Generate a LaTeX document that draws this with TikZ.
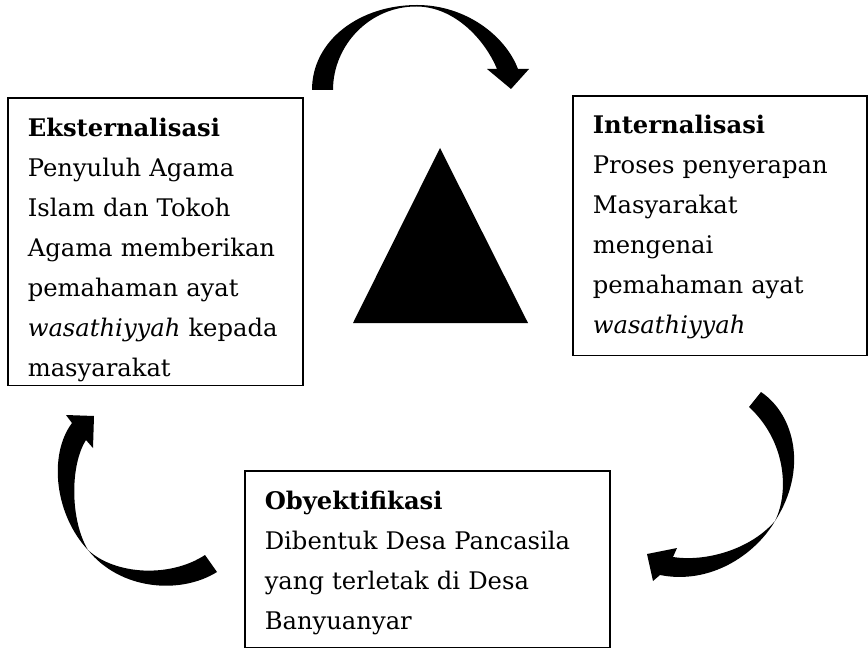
\documentclass[tikz,border=0pt]{standalone}
\usepackage{fontspec}
\setmainfont{DejaVu Serif}
\usepackage{tikz}
\tikzstyle{box}=[draw, line width=0.9pt, anchor=north west, align=left,
  inner xsep=0.4cm, inner ysep=0pt, font=\fontsize{13.8pt}{22.76pt}\selectfont]
\tikzstyle{ribbon}=[fill=black, draw=none]

\begin{document}
\begin{tikzpicture}[x=0.02cm, y=-0.02cm]
\useasboundingbox (0,0) rectangle (868,648);
% Boxes
    \node[box, text width=5.1cm] (ekst) at (7,97)
      {\rule{0pt}{22.2pt}\textbf{Eksternalisasi}\\
       Penyuluh Agama\\
       Islam dan Tokoh\\
       Agama memberikan\\
       pemahaman ayat\\
       \textit{wasathiyyah} kepada\\
       masyarakat\rule[-5.1pt]{0pt}{5.1pt}};
    \node[box, text width=5.08cm] (inter) at (572,95)
      {\rule{0pt}{21.6pt}\textbf{Internalisasi}\\
       Proses penyerapan\\
       Masyarakat\\
       mengenai\\
       pemahaman ayat\\
       \textit{wasathiyyah}\rule[-12.5pt]{0pt}{12.5pt}};
    \node[box, text width=6.5cm] (obyek) at (244,470)
      {\rule{0pt}{22.2pt}\textbf{Obyektifikasi}\\
       Dibentuk Desa Pancasila\\
       yang terletak di Desa\\
       Banyuanyar\rule[-10.2pt]{0pt}{10.2pt}};
% Triangle
    \fill (440,148) -- (353,323) -- (528,323) -- cycle;
% Curved arrows
    \path[ribbon] (333,90) .. controls (333,45) and (370,6) .. (417,6.5)
      .. controls (455,7) and (485,40) .. (497,69)
      -- (487,69) -- (511,89) -- (529,69) -- (518,69)
      .. controls (505,35) and (465,5) .. (417,5)
      .. controls (360,5) and (312,40) .. (312,90) -- cycle;
    \path[ribbon] (761,392) .. controls (795,415) and (808,470) .. (775,521)
      .. controls (755,555) and (710,585) .. (660,575)
      -- (653,581) -- (647,554) -- (677,548) -- (673,557)
      .. controls (705,562) and (750,550) .. (775,521)
      .. controls (790,490) and (785,440) .. (749,407) -- cycle;
    \path[ribbon] (217,572) .. controls (180,595) and (120,590) .. (88,550)
      .. controls (55,515) and (48,455) .. (72,423)
      -- (66,415) -- (94,416) -- (93,448) -- (86,440)
      .. controls (70,465) and (70,520) .. (88,550)
      .. controls (115,575) and (170,578) .. (205,555) -- cycle;
\end{tikzpicture}
\end{document}
